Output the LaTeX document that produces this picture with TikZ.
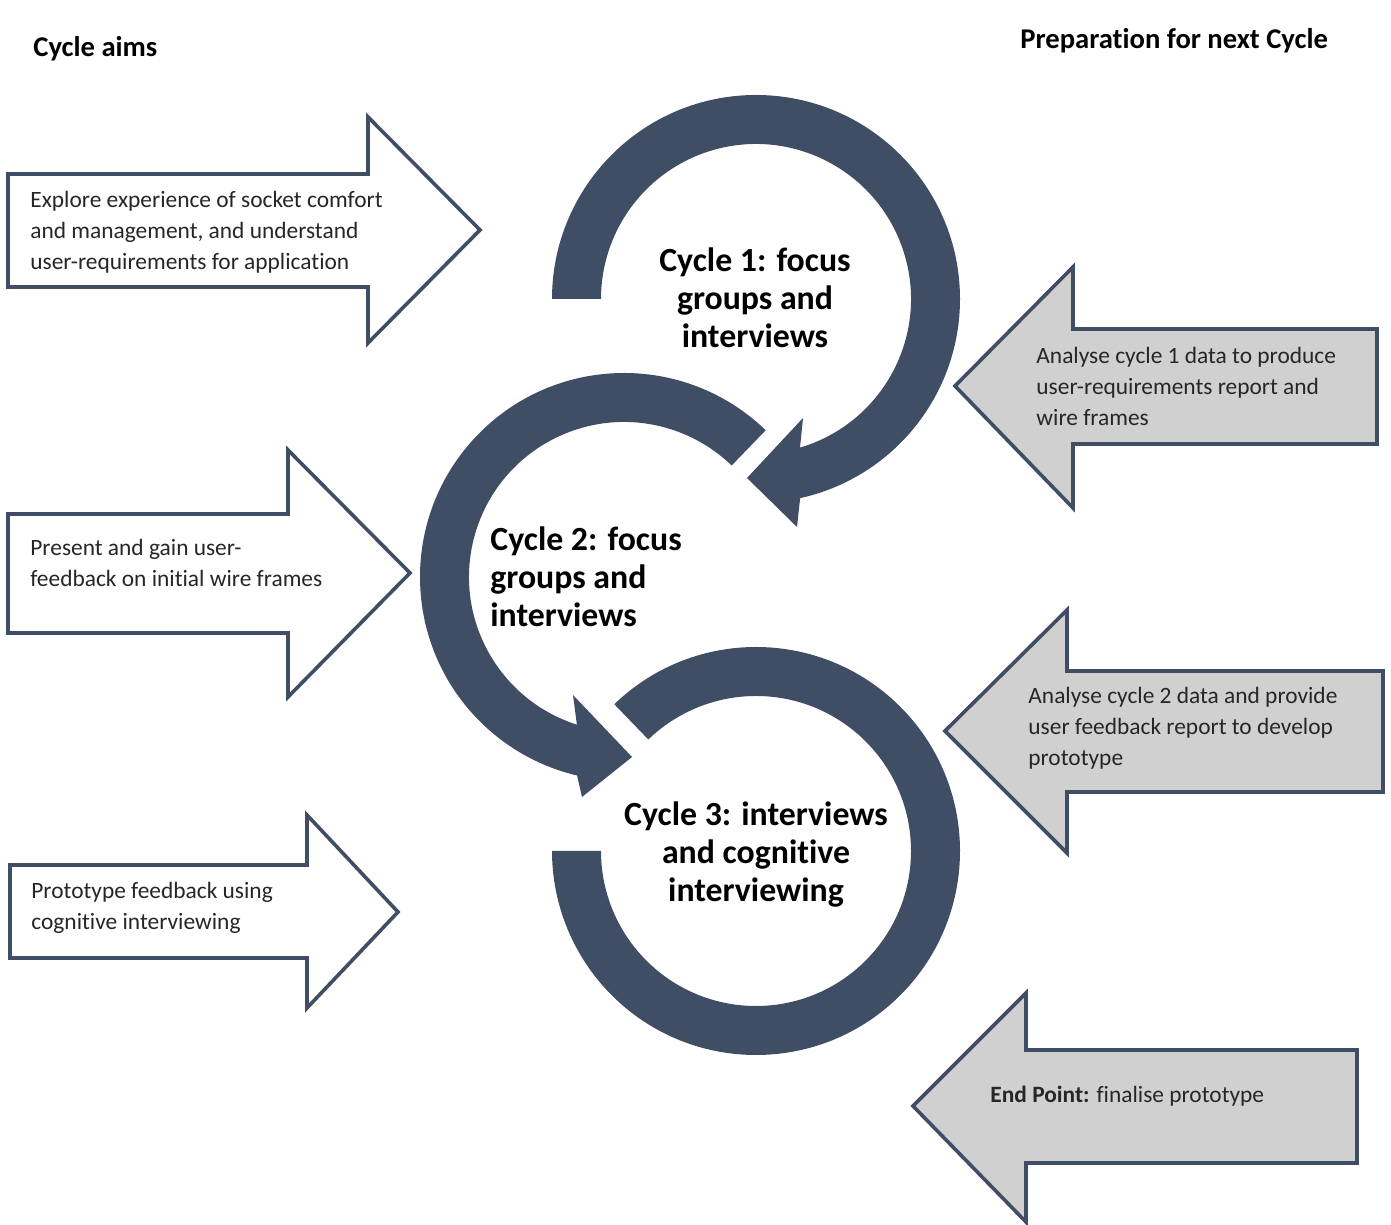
\documentclass[tikz,border=0pt]{standalone}
\usepackage{fontspec}
\setmainfont{Carlito}[Ligatures=NoCommon]
\usetikzlibrary{calc}
\definecolor{ringblue}{RGB}{63,78,101}
\definecolor{prepgrey}{RGB}{208,208,208}
\begin{document}
\begin{tikzpicture}[x=0.5pt, y=0.5pt, line join=miter,
		ring/.style={fill=ringblue},
		aimarrow/.style={draw=ringblue, line width=1.8pt, fill=white},
		preparrow/.style={draw=ringblue, line width=1.8pt, fill=prepgrey},
		txt/.style={anchor=west, align=left, inner sep=0pt, text=black!85, font={\fontsize{11.7}{15.5}\selectfont}},
		cyc/.style={align=center, inner sep=0pt, font={\bfseries\fontsize{16.9}{19}\selectfont}},
		head/.style={anchor=west, inner sep=0pt, font={\bfseries\fontsize{14.3}{17}\selectfont}}]
	\def\ro{204}\def\ri{155}
	\useasboundingbox (0,0) rectangle (1391,1225);
	\coordinate (c1) at (756,926);
	\coordinate (c2) at (624,648);
	\coordinate (c3) at (756,374);
	% the three cycle rings
	\fill[ring] ($(c1)+(180:\ro)$) arc[start angle=180, end angle=-77.5, radius=\ro] -- (797,698) -- (747,747) -- (803,807) -- ($(c1)+(-73.5:\ri)$) arc[start angle=-73.5, end angle=180, radius=\ri] -- cycle;
	\fill[ring] ($(c2)+(46:\ro)$) arc[start angle=46, end angle=256.7, radius=\ro] -- (582,428) -- (632,468) -- (573,530) -- ($(c2)+(252.3:\ri)$) arc[start angle=252.3, end angle=46, radius=\ri] -- cycle;
	\fill[ring] ($(c3)+(134:\ro)$) arc[start angle=134, end angle=-180, radius=\ro] -- ($(c3)+(-180:\ri)$) arc[start angle=-180, end angle=134, radius=\ri] -- cycle;
	\node[cyc] (cyc1) at (755,927) {Cycle 1: focus\\groups and\\interviews};
	\node[cyc, align=left, anchor=west] (cyc2) at (490,648) {Cycle 2: focus\\groups and\\interviews};
	\node[cyc] (cyc3) at (756,370) {Cycle 3: interviews\\and cognitive\\interviewing};
	% cycle aims
	\node[head] (aims) at (33,1176) {Cycle aims};
	\draw[aimarrow] (8,1051)--(368,1051)--(368,1108)--(480,995)--(368,882)--(368,938)--(8,938)--cycle;
	\draw[aimarrow] (8,711)--(288,711)--(288,775)--(410,652)--(288,528)--(288,592)--(8,592)--cycle;
	\draw[aimarrow] (10,360)--(307,360)--(307,410)--(398,313)--(307,217)--(307,267)--(10,267)--cycle;
	\node[txt] (aim1) at (30,993) {Explore experience of socket comfort\\and management, and understand\\user-requirements for application};
	\node[txt] (aim2) at (30,662) {Present and gain user-\\feedback on initial wire frames};
	\node[txt] (aim3) at (31,317) {Prototype feedback using\\cognitive interviewing};
	% preparation for next cycle
	\node[head] (prep) at (1020,1184) {Preparation for next Cycle};
	\draw[preparrow] (1377,896)--(1073,896)--(1073,958)--(955,839)--(1073,717)--(1073,781)--(1377,781)--cycle;
	\draw[preparrow] (1383,554)--(1067,554)--(1067,615)--(945,494)--(1067,372)--(1067,433)--(1383,433)--cycle;
	\draw[preparrow] (1357,175)--(1026,175)--(1026,232)--(913,119)--(1026,3)--(1026,62)--(1357,62)--cycle;
	\node[txt] (prep1) at (1036,839) {Analyse cycle 1 data to produce\\user-requirements report and\\wire frames};
	\node[txt] (prep2) at (1028,497) {Analyse cycle 2 data and provide\\user feedback report to develop\\prototype};
	\node[txt] (prep3) at (990,129) {\textbf{End Point:} finalise prototype};
\end{tikzpicture}
\end{document}
